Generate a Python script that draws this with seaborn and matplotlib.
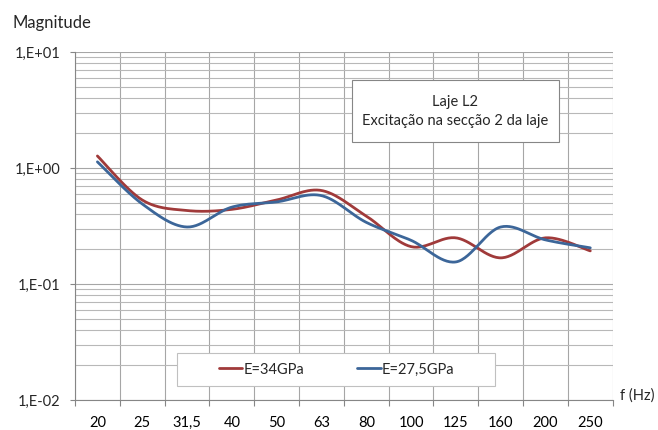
import numpy as np
import pandas as pd
import matplotlib
matplotlib.use("Agg")
import matplotlib.pyplot as plt
import seaborn as sns
from matplotlib.patches import Rectangle
from matplotlib.lines import Line2D
from matplotlib.ticker import FixedLocator, NullFormatter

freq_labels = ["20", "25", "31,5", "40", "50", "63", "80", "100", "125", "160", "200", "250"]
e34 = [1.27, 0.53, 0.43, 0.44, 0.53, 0.64, 0.385, 0.21, 0.25, 0.168, 0.25, 0.193]
e275 = [1.13, 0.49, 0.31, 0.46, 0.51, 0.578, 0.34, 0.238, 0.155, 0.31, 0.24, 0.205]
series_names = ["E=34GPa", "E=27,5GPa"]
colors = ["#A03A3A", "#3C6699"]

sns.set_style("white")
plt.rcParams["font.family"] = ["Lato", "DejaVu Sans"]


def smooth(vals, n=30):
    """Excel-like smoothed line: Bezier through points in (index, log10 y) space."""
    x = np.arange(len(vals), dtype=float)
    y = np.log10(np.asarray(vals, dtype=float))
    P = np.column_stack([x, y])
    out = []
    for i in range(len(P) - 1):
        p0 = P[i - 1] if i > 0 else P[i]
        p1 = P[i]
        p2 = P[i + 1]
        p3 = P[i + 2] if i + 2 < len(P) else P[i + 1]
        c1 = p1 + (p2 - p0) / 6.0
        c2 = p2 - (p3 - p1) / 6.0
        t = np.linspace(0, 1, n, endpoint=(i == len(P) - 2))[:, None]
        seg = ((1 - t) ** 3) * p1 + 3 * ((1 - t) ** 2) * t * c1 + 3 * (1 - t) * t ** 2 * c2 + t ** 3 * p2
        out.append(seg)
    out = np.vstack(out)
    return out[:, 0], 10 ** out[:, 1]


frames = []
for name, vals in zip(series_names, [e34, e275]):
    xs, ys = smooth(vals)
    frames.append(pd.DataFrame({"x": xs, "y": ys, "serie": name}))
df = pd.concat(frames, ignore_index=True)

fig = plt.figure(figsize=(6.58, 4.30), dpi=100)
ax = fig.add_axes([75 / 658, 1 - 400 / 430, 537.7 / 658, 348 / 430])

sns.lineplot(data=df, x="x", y="y", hue="serie", palette=colors, hue_order=series_names,
             sort=False, estimator=None, units="serie", lw=2.0, ax=ax, legend=False)

ax.set_yscale("log")
ax.set_ylim(0.01, 10)
ax.set_xlim(-0.5, len(freq_labels) - 0.5)

# x ticks: labels at centers, tick marks & grid at boundaries
ax.set_xticks(np.arange(len(freq_labels)))
ax.set_xticklabels(freq_labels)
ax.xaxis.set_minor_locator(FixedLocator(np.arange(-0.5, len(freq_labels), 1.0)))
ax.tick_params(axis="x", which="major", length=0, pad=11.5, labelsize=10.5, colors="#000000")
ax.tick_params(axis="x", which="minor", length=4, width=0.8, color="#868686", direction="out", bottom=True)

ax.set_yticks([0.01, 0.1, 1, 10])
ax.set_yticklabels(["1,E-02", "1,E-01", "1,E+00", "1,E+01"])
minor_y = [m * 10.0 ** e for e in range(-2, 1) for m in range(2, 10)]
ax.yaxis.set_minor_locator(FixedLocator(minor_y))
ax.yaxis.set_minor_formatter(NullFormatter())
ax.tick_params(axis="y", which="major", length=3.5, width=0.8, color="#868686", direction="out",
               left=True, pad=7, labelsize=10.5)
ax.tick_params(axis="y", which="minor", length=0)

ax.grid(True, which="major", axis="y", color="#a6a6a6", lw=0.8)
ax.grid(True, which="minor", axis="y", color="#b8b8b8", lw=0.8)
ax.grid(True, which="minor", axis="x", color="#a6a6a6", lw=0.8)
ax.grid(False, which="major", axis="x")
ax.set_axisbelow(True)

for s in ["top", "right"]:
    ax.spines[s].set_visible(False)
for s in ["left", "bottom"]:
    ax.spines[s].set_color("#868686")
    ax.spines[s].set_linewidth(0.8)
ax.set_xlabel("")
ax.set_ylabel("")

# Title box
ax.add_patch(Rectangle((0.515, 0.741), 0.385, 0.1785, transform=ax.transAxes,
                       facecolor="white", edgecolor="#868686", lw=0.8, zorder=5))
ax.text(0.7075, 0.855, "Laje L2", transform=ax.transAxes, ha="center", va="center",
        fontsize=10.5, zorder=6)
ax.text(0.7075, 0.803, "Excitação na secção 2 da laje", transform=ax.transAxes, ha="center",
        va="center", fontsize=10.5, zorder=6)

# Legend box
ax.add_patch(Rectangle((0.19, 0.04), 0.591, 0.095, transform=ax.transAxes,
                       facecolor="white", edgecolor="#c0c0c0", lw=0.8, zorder=5))
handles = [Line2D([0], [0], color=c, lw=2.0) for c in colors]
leg = ax.legend(handles, series_names, loc="center", bbox_to_anchor=(0.487, 0.0875),
                ncol=2, frameon=False, handlelength=1.6, handletextpad=0.1,
                columnspacing=3.6, fontsize=10.5)
leg.set_zorder(7)

fig.text(12 / 658, 1 - 23 / 430, "Magnitude", ha="left", va="center", fontsize=12)
fig.text(620 / 658, 1 - 396 / 430, "f (Hz)", ha="left", va="center", fontsize=10.5)

fig.savefig("out.png", dpi=100)
